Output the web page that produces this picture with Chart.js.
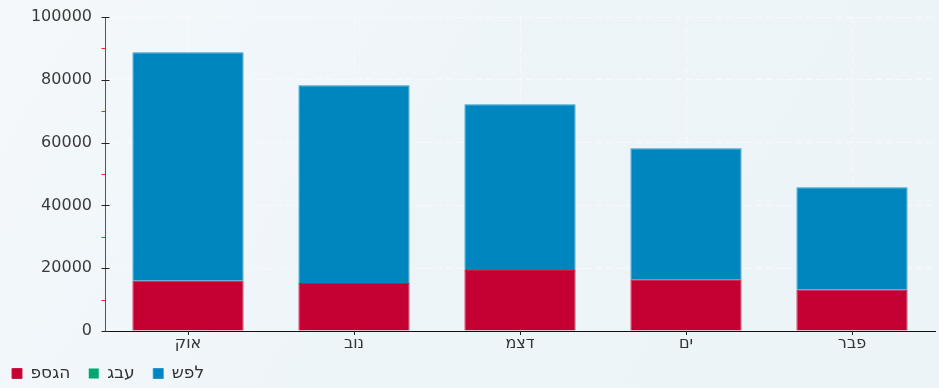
<!DOCTYPE html>
<html lang="he">
<head>
<meta charset="utf-8">
<script src="https://cdn.jsdelivr.net/npm/chart.js@4.4.1/dist/chart.umd.min.js"></script>
<style>
  html, body { margin: 0; padding: 0; }
  body {
    width: 939px; height: 388px; overflow: hidden;
    background: linear-gradient(120deg, #f4f8fb 0%, #eef5f9 45%, #ecf4f8 100%);
  }
  #wrap { position: relative; width: 939px; height: 388px; }
</style>
</head>
<body>
<div id="wrap"><canvas id="chart"></canvas></div>
<script>
// ─── Data ───────────────────────────────────────────────
const months   = ['אוק', 'נוב', 'דצמ', 'ים', 'פבר'];
const peak     = [16000, 15300, 19400, 16500, 13100];   // פסגה
const shoulder = [0, 0, 0, 0, 0];                        // גבע
const offPeak  = [72800, 63000, 52800, 41700, 32700];   // שפל
const yTicks   = [0, 20000, 40000, 60000, 80000, 100000];

const FONT = 'DejaVu Sans';
// legend text in the reference is laid out left-to-right, with wider gaps
const ltr = s => '\u202D' + s + '\u202C\u2002';

// ─── Axis ticks drawn across the axis line ─────────────────
const axisTicks = {
    id: 'axisTicks',
    afterDraw(chart) {
        const { ctx, scales: { x, y } } = chart;
        const ax = Math.round(y.right) + 0.5;
        ctx.save();
        ctx.lineWidth = 1;

        // minor red ticks half way between the major ones
        ctx.strokeStyle = '#e8281e';
        for (let i = 0; i < yTicks.length - 1; i++) {
            const py = Math.round(y.getPixelForValue((yTicks[i] + yTicks[i + 1]) / 2)) + 0.5;
            ctx.beginPath(); ctx.moveTo(ax - 4, py); ctx.lineTo(ax, py); ctx.stroke();
        }

        // major ticks
        ctx.strokeStyle = '#222';
        yTicks.forEach(v => {
            const py = Math.round(y.getPixelForValue(v)) + 0.5;
            ctx.beginPath(); ctx.moveTo(ax - 4, py); ctx.lineTo(ax + 4, py); ctx.stroke();
        });

        // category ticks on the x axis
        months.forEach((_, i) => {
            const px = Math.round(x.getPixelForValue(i)) + 0.5;
            ctx.beginPath(); ctx.moveTo(px, x.top); ctx.lineTo(px, x.top + 4); ctx.stroke();
        });
        ctx.restore();
    }
};

new Chart(document.getElementById('chart'), {
    type: 'bar',
    data: {
        labels: months,
        datasets: [
            { label: ltr('פסגה'), data: peak,     backgroundColor: '#c40032', borderColor: '#cc1a46', borderWidth: 1 },
            { label: ltr('גבע'),  data: shoulder, backgroundColor: '#00a870', borderColor: '#00a870', borderWidth: 0 },
            { label: ltr('שפל'),  data: offPeak,  backgroundColor: '#0086bf', borderColor: '#2a98cc', borderWidth: 1 }
        ]
    },
    options: {
        responsive: true,
        maintainAspectRatio: false,
        animation: false,
        categoryPercentage: 1,
        barPercentage: 0.67,
        layout: { padding: { top: 17, right: 4, bottom: -4, left: 2 } },
        plugins: {
            legend: {
                position: 'bottom',
                align: 'start',
                labels: {
                    boxWidth: 10,
                    boxHeight: 10,
                    padding: 10,
                    color: '#333',
                    font: { family: FONT, size: 17 }
                }
            },
            tooltip: { enabled: false }
        },
        scales: {
            x: {
                stacked: true,
                afterFit: s => { s.height = 24; },
                grid: {
                    offset: false,
                    color: 'rgba(255,255,255,0.5)',
                    drawTicks: false
                },
                border: { display: true, color: '#111', width: 1, dash: [6, 4] },
                ticks: { color: '#333', font: { family: FONT, size: 16 }, padding: 3 }
            },
            y: {
                stacked: true,
                min: 0,
                max: 100000,
                afterFit: s => { s.width = 103; },
                afterBuildTicks: s => { s.ticks = yTicks.map(v => ({ value: v })); },
                grid: {
                    color: 'rgba(255,255,255,0.5)',
                    tickColor: 'rgba(0,0,0,0)',
                    tickLength: 10
                },
                border: { display: true, color: '#555', width: 1, dash: [6, 4] },
                ticks: {
                    color: '#3a3a3a',
                    font: { family: FONT, size: 16 },
                    padding: 3,
                    callback: v => String(v)
                }
            }
        }
    },
    plugins: [axisTicks]
});
</script>
</body>
</html>
